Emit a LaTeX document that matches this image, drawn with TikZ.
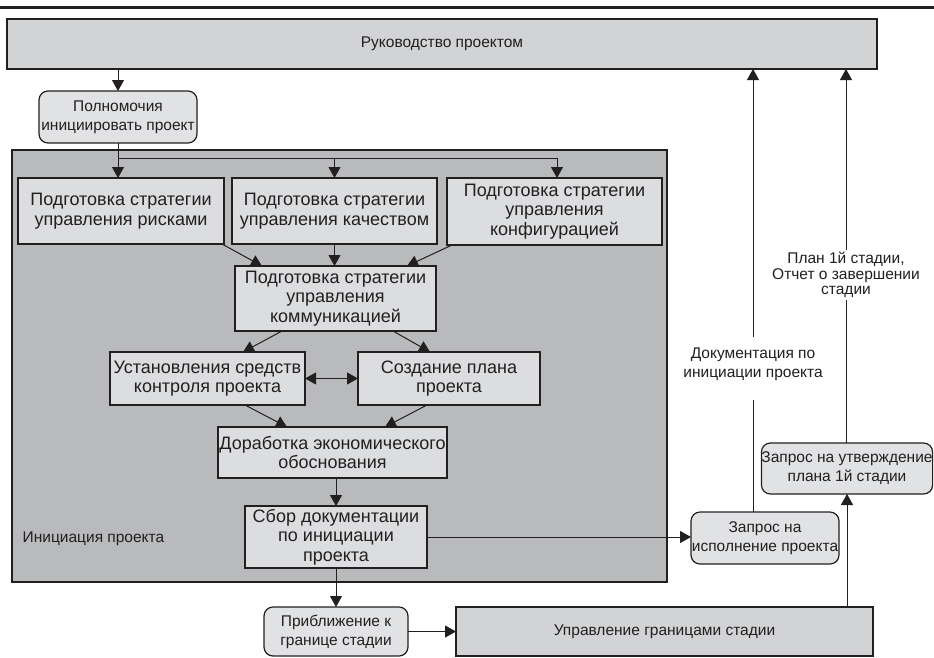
\documentclass[tikz,border=0pt]{standalone}
\usepackage{fontspec}
\setmainfont{Liberation Sans}
\usetikzlibrary{arrows.meta,calc}
\definecolor{ink}{HTML}{231F20}
\definecolor{gtop}{HTML}{D2D3D5}
\definecolor{ginit}{HTML}{B9BABC}
\definecolor{gbox}{HTML}{DCDDDF}
\definecolor{ground}{HTML}{E1E2E4}
\begin{document}
\begin{tikzpicture}[x=1pt,y=-1pt,
 every node/.style={inner sep=0pt, outer sep=0pt, align=center, text=ink},
 arr/.style={draw=ink, line width=1pt, -{Triangle[length=11pt,width=12pt]}},
 dblarr/.style={draw=ink, line width=1pt, {Triangle[length=11pt,width=12pt]}-{Triangle[length=11pt,width=12pt]}},
 ln/.style={draw=ink, line width=1pt},
 topbox/.style={draw=ink, line width=1.2pt, fill=gtop, font=\fontsize{15.5}{19}\selectfont},
 procbox/.style={draw=ink, line width=1.2pt, fill=gbox, font=\fontsize{18}{19.5}\selectfont},
 roundbox/.style={draw=ink, line width=1.2pt, fill=ground, rounded corners=9pt, font=\fontsize{15.5}{19}\selectfont},
 lbl/.style={font=\fontsize{15.5}{19}\selectfont}]
\useasboundingbox (0,0) rectangle (934,657);
\fill[white] (0,0) rectangle (934,657);
\draw[ink, line width=3pt] (0,7.3) -- (934,7.3);

\node[topbox, minimum width=870pt, minimum height=50pt] (top) at (442,44) {Руководство проектом};
\node[roundbox, minimum width=158pt, minimum height=52pt] (pol) at (118,117) {Полномочия\\инициировать проект};
\node[draw=ink, line width=1.2pt, fill=ginit, minimum width=655pt, minimum height=432pt] (init) at (339.5,366) {};
\node[lbl, anchor=west] (initlbl) at (22.7,539) {Инициация проекта};
\node[procbox, minimum width=206pt, minimum height=66pt] (risk) at (121,211) {Подготовка стратегии\\управления рисками};
\node[procbox, minimum width=205pt, minimum height=66pt] (qual) at (334.5,211) {Подготовка стратегии\\управления качеством};
\node[procbox, minimum width=215pt, minimum height=67pt] (conf) at (554.5,211.5) {Подготовка стратегии\\управления\\конфигурацией};
\node[procbox, minimum width=201pt, minimum height=65pt] (comm) at (335.5,298.5) {Подготовка стратегии\\управления\\коммуникацией};
\node[procbox, minimum width=195pt, minimum height=53pt] (ust) at (207.5,378.5) {Установления средств\\контроля проекта};
\node[procbox, minimum width=182pt, minimum height=53pt] (soz) at (449,378.5) {Создание плана\\проекта};
\node[procbox, minimum width=229pt, minimum height=51pt] (dor) at (332.5,452.5) {Доработка экономического\\обоснования};
\node[procbox, minimum width=182pt, minimum height=62pt] (sbor) at (336,537) {Сбор документации\\по инициации\\проекта};
\node[roundbox, minimum width=144pt, minimum height=49pt] (pri) at (336,631.5) {Приближение к\\границе стадии};
\node[topbox, minimum width=417pt, minimum height=49pt] (upr) at (664.5,631.5) {Управление границами стадии};
\node[roundbox, minimum width=148pt, minimum height=52pt] (isp) at (765,538) {Запрос на\\исполнение проекта};
\node[roundbox, minimum width=170pt, minimum height=51pt] (utv) at (847,468.5) {Запрос на утверждение\\плана 1й стадии};
\node[lbl] (doclbl) at (753,364) {Документация по\\инициации проекта};
\node[lbl, font=\fontsize{15.5}{15.5}\selectfont] (planlbl) at (846,275) {План 1й стадии,\\Отчет о завершении\\стадии};

\draw[arr] (top.south -| pol.north) -- (pol.north);
\coordinate (br) at (118,158);
\coordinate (brR) at (557,158);
\draw[arr] (pol.south) -- (pol.south |- risk.north);
\draw[arr] (br) -- (brR) -- (brR |- conf.north);
\draw[arr] (br -| qual.north) -- (qual.north);
\draw[arr] ($(risk.south east)+(-2,0)$) -- ($(comm.north west)+(27,0)$);
\draw[arr] (qual.south) -- (qual.south |- comm.north);
\draw[arr] ($(conf.south west)+(5,0)$) -- ($(comm.north east)+(-29,0)$);
\draw[arr] ($(comm.south west)+(47,0)$) -- ($(ust.north east)+(-62,0)$);
\draw[arr] ($(comm.south east)+(-43,0)$) -- ($(soz.north west)+(72,0)$);
\draw[dblarr] (ust.east) -- (soz.west);
\draw[arr] ($(ust.south west)+(135,0)$) -- ($(dor.north west)+(69,0)$);
\draw[arr] ($(soz.south west)+(69,0)$) -- ($(dor.north east)+(-62,0)$);
\draw[arr] (dor.south -| sbor.north) -- (sbor.north);
\draw[arr] (sbor.south) -- (pri.north);
\draw[arr] (pri.east) -- (pri.east -| upr.west);
\draw[arr] (sbor.east) -- (sbor.east -| isp.west);
\draw[arr] (upr.north -| utv.south) -- (utv.south);
\coordinate (dA) at (753,400);
\coordinate (dB) at (753,337);
\draw[ln] (isp.north -| dA) -- (dA);
\draw[arr] (dB) -- (dB |- top.south);
\coordinate (pA) at (846,300);
\coordinate (pB) at (846,250);
\draw[ln] (utv.north -| pA) -- (pA);
\draw[arr] (pB) -- (pB |- top.south);
\end{tikzpicture}
\end{document}
